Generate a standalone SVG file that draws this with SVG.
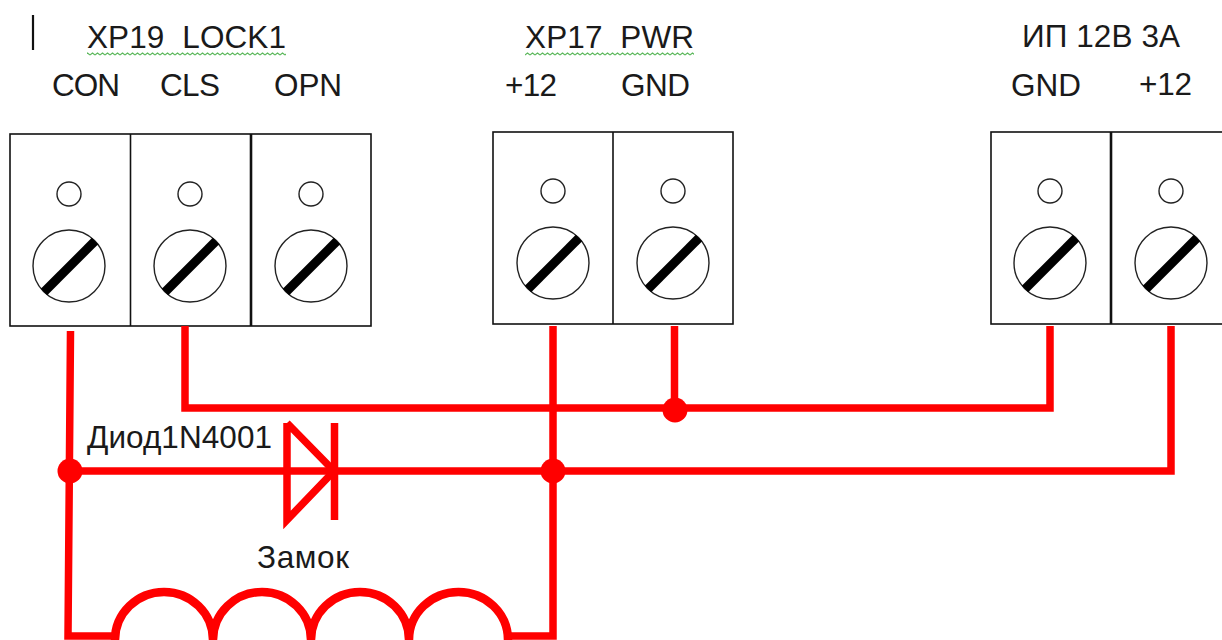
<svg xmlns="http://www.w3.org/2000/svg" width="1222" height="640" viewBox="0 0 1222 640">
<style>
text{font-family:"Liberation Sans",Arial,sans-serif;font-size:31.500px;fill:#1a1a1a;white-space:pre}
.box{fill:#fff;stroke:#111;stroke-width:1.6}
.hole{fill:#fff;stroke:#222;stroke-width:1.4}
.wire{fill:none;stroke:#f00;stroke-width:7.500;stroke-linecap:butt;stroke-linejoin:miter}
.coil{fill:none;stroke:#f00;stroke-width:8.500}
.dot{fill:#f00}
</style>
<defs>
<pattern id="sq" width="5" height="4" patternUnits="userSpaceOnUse" y="52"><path d="M0 3L2.500 1L5 3" fill="none" stroke="#5cb85c" stroke-width="1.100"/></pattern>
<g id="screw">
<circle class="hole" cx="59" cy="60" r="12"/>
<circle class="hole" cx="59" cy="132" r="36"/>
<path d="M34 158L85 107" stroke="#000" stroke-width="9" fill="none"/>
</g>
</defs>
<rect width="1222" height="640" fill="#fff"/>
<path d="M33 15V50" stroke="#111" stroke-width="2.200"/>
<g id="xp19">
<rect class="box" x="10" y="134" width="361" height="192"/>
<path d="M130.500 134V326" stroke="#111" stroke-width="1.600"/>
<path d="M251 134V326" stroke="#111" stroke-width="2.600"/>
<use href="#screw" x="10" y="134"/><use href="#screw" x="131" y="134"/><use href="#screw" x="252" y="134"/>
<text x="87" y="48" textLength="199">XP19  LOCK1</text>
<rect x="87" y="52" width="199" height="4" fill="url(#sq)"/>
<text x="52" y="96" textLength="68">CON</text><text x="160" y="96" textLength="60">CLS</text><text x="274" y="96" textLength="68">OPN</text>
</g>
<g id="xp17">
<rect class="box" x="493" y="132" width="240" height="192"/>
<path d="M613 132V324" stroke="#111" stroke-width="1.600"/>
<use href="#screw" x="494" y="131"/><use href="#screw" x="614" y="131"/>
<text x="525" y="48" textLength="169">XP17  PWR</text>
<rect x="525" y="52" width="169" height="4" fill="url(#sq)"/>
<text x="505" y="96" textLength="52">+12</text><text x="621" y="96" textLength="69">GND</text>
</g>
<g id="psu">
<rect class="box" x="991" y="132" width="240" height="192"/>
<path d="M1111 132V324" stroke="#111" stroke-width="2.600"/>
<use href="#screw" x="991" y="131"/><use href="#screw" x="1112" y="131"/>
<text x="1022" y="47" textLength="158">ИП 12В 3А</text>
<text x="1011" y="96" textLength="70">GND</text><text x="1139" y="95" textLength="53">+12</text>
</g>
<g id="connectors">
<path class="wire" d="M70.500 331L68 636H115"/>
<path class="wire" d="M185 326V408H1050V326"/>
<path class="wire" d="M674.500 326V408"/>
<path class="wire" d="M70 471H1171V326"/>
<path class="wire" d="M553 326V636H508"/>
</g>
<g id="junctions">
<circle class="dot" cx="675" cy="410" r="12.500"/>
<circle class="dot" cx="70" cy="471" r="12.500"/>
<circle class="dot" cx="553" cy="471" r="12.500"/>
</g>
<g id="diode">
<path class="wire" d="M287 423V520L334 471L287 423"/>
<path class="wire" d="M334.500 423V520"/>
<text x="87" y="448" textLength="185">Диод1N4001</text>
</g>
<g id="lock">
<path class="coil" d="M115 640A49 48 0 0 1 213 640A49 48 0 0 1 311 640A49 48 0 0 1 409 640A49.500 48 0 0 1 508 640"/>
<text x="257" y="568" textLength="92">Замок</text>
</g>
</svg>
